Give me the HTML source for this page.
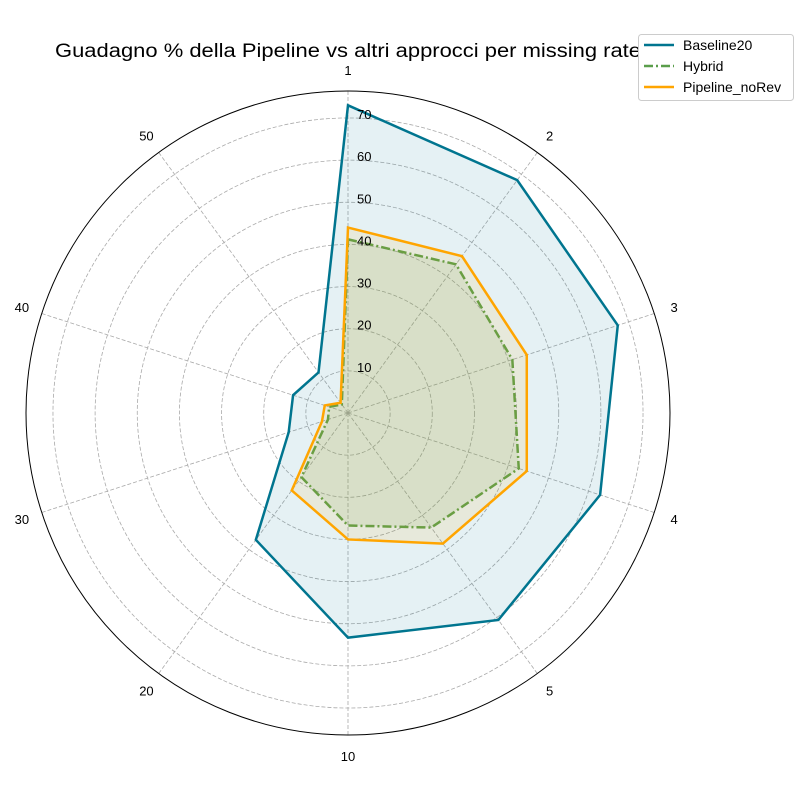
<!DOCTYPE html>
<html><head><meta charset="utf-8"><style>
body{margin:0;background:#fff;font-family:"Liberation Sans","DejaVu Sans",sans-serif}
</style></head><body>
<svg id="c" width="800" height="800" font-family="Liberation Sans, DejaVu Sans, sans-serif">
<text x="348" y="57" text-anchor="middle" font-size="19" textLength="586" lengthAdjust="spacingAndGlyphs">Guadagno % della Pipeline vs altri approcci per missing rate</text>
<g id="grid"></g><g id="series"></g><g id="labels"></g>
<g>
<rect x="638.5" y="34.5" width="155" height="66" rx="3" fill="#fff" stroke="#ccc"/>
<g><line x1="644" y1="45" x2="674" y2="45" stroke="#00758f" stroke-width="2.5"/><text x="683" y="50" font-size="14">Baseline20</text></g>
<g><line x1="644" y1="66" x2="674" y2="66" stroke="#5a9e4b" stroke-width="2.5" stroke-dasharray="9,3,2,3"/><text x="683" y="71" font-size="14">Hybrid</text></g>
<g><line x1="644" y1="87" x2="674" y2="87" stroke="#ffa500" stroke-width="2.5"/><text x="683" y="92" font-size="14">Pipeline_noRev</text></g>
</g>
</svg>
<script>
const categories=["1","2","3","4","5","10","20","30","40","50"];
const baseline20=[73,68.3,67.3,62.9,60.7,53.3,37.2,14.8,13.7,11.9];
const hybrid=[41.2,43.6,41,42.6,33.6,26.7,18.8,5,4.7,2.5];
const pipelineNoRev=[44,46,44.6,44.6,38.3,30,22.7,6.5,5.8,3];
const rTicks=[10,20,30,40,50,60,70];
const rMax=76.4;
const cx=348,cy=413,R=322,NS="http://www.w3.org/2000/svg";
function rs(v){return v/rMax*R;}
function pt(i,v){const a=i/categories.length*2*Math.PI;return [cx+rs(v)*Math.sin(a),cy-rs(v)*Math.cos(a)];}
function mk(tag,attrs,parent){const e=document.createElementNS(NS,tag);for(const k in attrs)e.setAttribute(k,attrs[k]);parent.appendChild(e);return e;}
const grid=document.getElementById('grid'),ser=document.getElementById('series'),lab=document.getElementById('labels');
rTicks.forEach(t=>{
 const c=mk('circle',{cx:cx,cy:cy,r:rs(t),fill:'none',stroke:'#aaa','stroke-dasharray':'4,2','stroke-width':0.8},grid);
 
 
 const tx=mk('text',{x:cx+9,y:cy-rs(t)+1,'font-size':13},lab);tx.textContent=t;
 
 
});
categories.forEach((c,i)=>{
 const p=pt(i,rMax);
 const l=mk('line',{x1:cx,y1:cy,x2:p[0],y2:p[1],stroke:'#aaa','stroke-dasharray':'4,2','stroke-width':0.8},grid);
 
 
 const q=pt(i,rMax*1.065);
 const t=mk('text',{x:q[0],y:q[1]+5,'text-anchor':'middle','font-size':13},lab);t.textContent=c;
 
 
});
const outer=mk('circle',{cx:cx,cy:cy,r:R,fill:'none',stroke:'#000','stroke-width':1},grid);


function series(vals,color,fill,dash,name){
 const pts=vals.map((v,i)=>pt(i,v).join(',')).join(' ');
 const f=mk('polygon',{points:pts,fill:fill,stroke:'none'},ser);
 
 
 const l=mk('polygon',{points:pts,fill:'none',stroke:color,'stroke-width':2.5,'stroke-dasharray':dash||'none','stroke-linejoin':'miter'},ser);
 
 
}
series(baseline20,'#00758f','rgba(0,117,143,0.1)',null,'baseline20');
series(hybrid,'#5a9e4b','rgba(90,158,75,0.12)','9,3,2,3','hybrid');
series(pipelineNoRev,'#ffa500','rgba(255,165,0,0.1)',null,'pipeline-norev');
</script>
</body></html>
